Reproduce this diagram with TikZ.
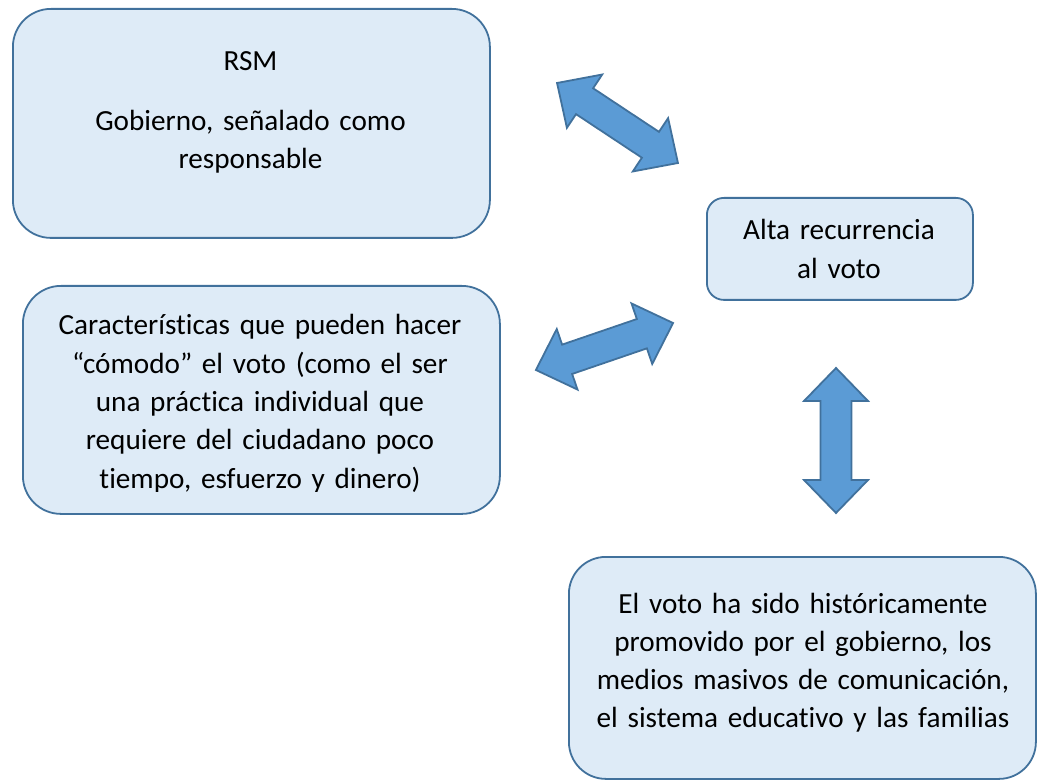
\documentclass[tikz,border=0pt]{standalone}
\usepackage{fontspec}
\setmainfont[Ligatures=NoCommon]{Carlito}
\usetikzlibrary{positioning}
\definecolor{boxline}{HTML}{41719C}
\definecolor{boxfill}{HTML}{DEEBF7}
\definecolor{arrowfill}{HTML}{5B9BD5}
\tikzset{
  box/.style={draw=boxline,fill=boxfill,line width=1.8pt,rounded corners=38pt,anchor=north west,inner sep=0pt},
  boxtext/.style={anchor=base,align=center,text width=460pt,inner sep=0pt,font=\fontsize{29.2}{38.3}\selectfont},
  blockarrow/.style={draw=boxline,fill=arrowfill,line width=1.8pt,line join=miter}
}
% double block arrow: centre x, centre y, angle
\newcommand{\dblarrow}[3]{%
  \draw[blockarrow,shift={(#1,#2)},rotate=#3] (-72.5,0)--(-39.5,32)--(-39.5,15.5)--(39.5,15.5)--(39.5,32)--(72.5,0)--(39.5,-32)--(39.5,-15.5)--(-39.5,-15.5)--(-39.5,-32)--cycle;}
\begin{document}
\begin{tikzpicture}[x=1pt,y=-1pt]
\useasboundingbox (0,0) rectangle (1039,783);
% boxes
\node[box,minimum width=477pt,minimum height=229pt] (rsm) at (12,8) {};
\node[boxtext] (rsmtext) at (250.5,71) {RSM\\[21pt]Gobierno, señalado como\\responsable};
\node[box,minimum width=266pt,minimum height=102pt,rounded corners=17pt] (alta) at (706,197) {};
\node[boxtext] (altatext) at (839,240) {Alta recurrencia\\al voto};
\node[box,minimum width=477pt,minimum height=228pt] (comodo) at (22,285) {};
\begin{scope}
\clip (22,285) rectangle (499,491);
\node[boxtext] (comodotext) at (260,335) {Características que pueden hacer\\“cómodo” el voto (como el ser\\una práctica individual que\\requiere del ciudadano poco\\tiempo, esfuerzo y dinero)};
\end{scope}
\node[box,minimum width=467pt,minimum height=222pt,rounded corners=37pt] (historia) at (568,556) {};
\node[boxtext] (historiatext) at (803,613) {El voto ha sido históricamente\\promovido por el gobierno, los\\medios masivos de comunicación,\\el sistema educativo y las familias};
% arrows
\dblarrow{617.5}{123}{-33.5}
\dblarrow{604.5}{346.5}{18.9}
\dblarrow{836}{440.5}{90}
\end{tikzpicture}
\end{document}
